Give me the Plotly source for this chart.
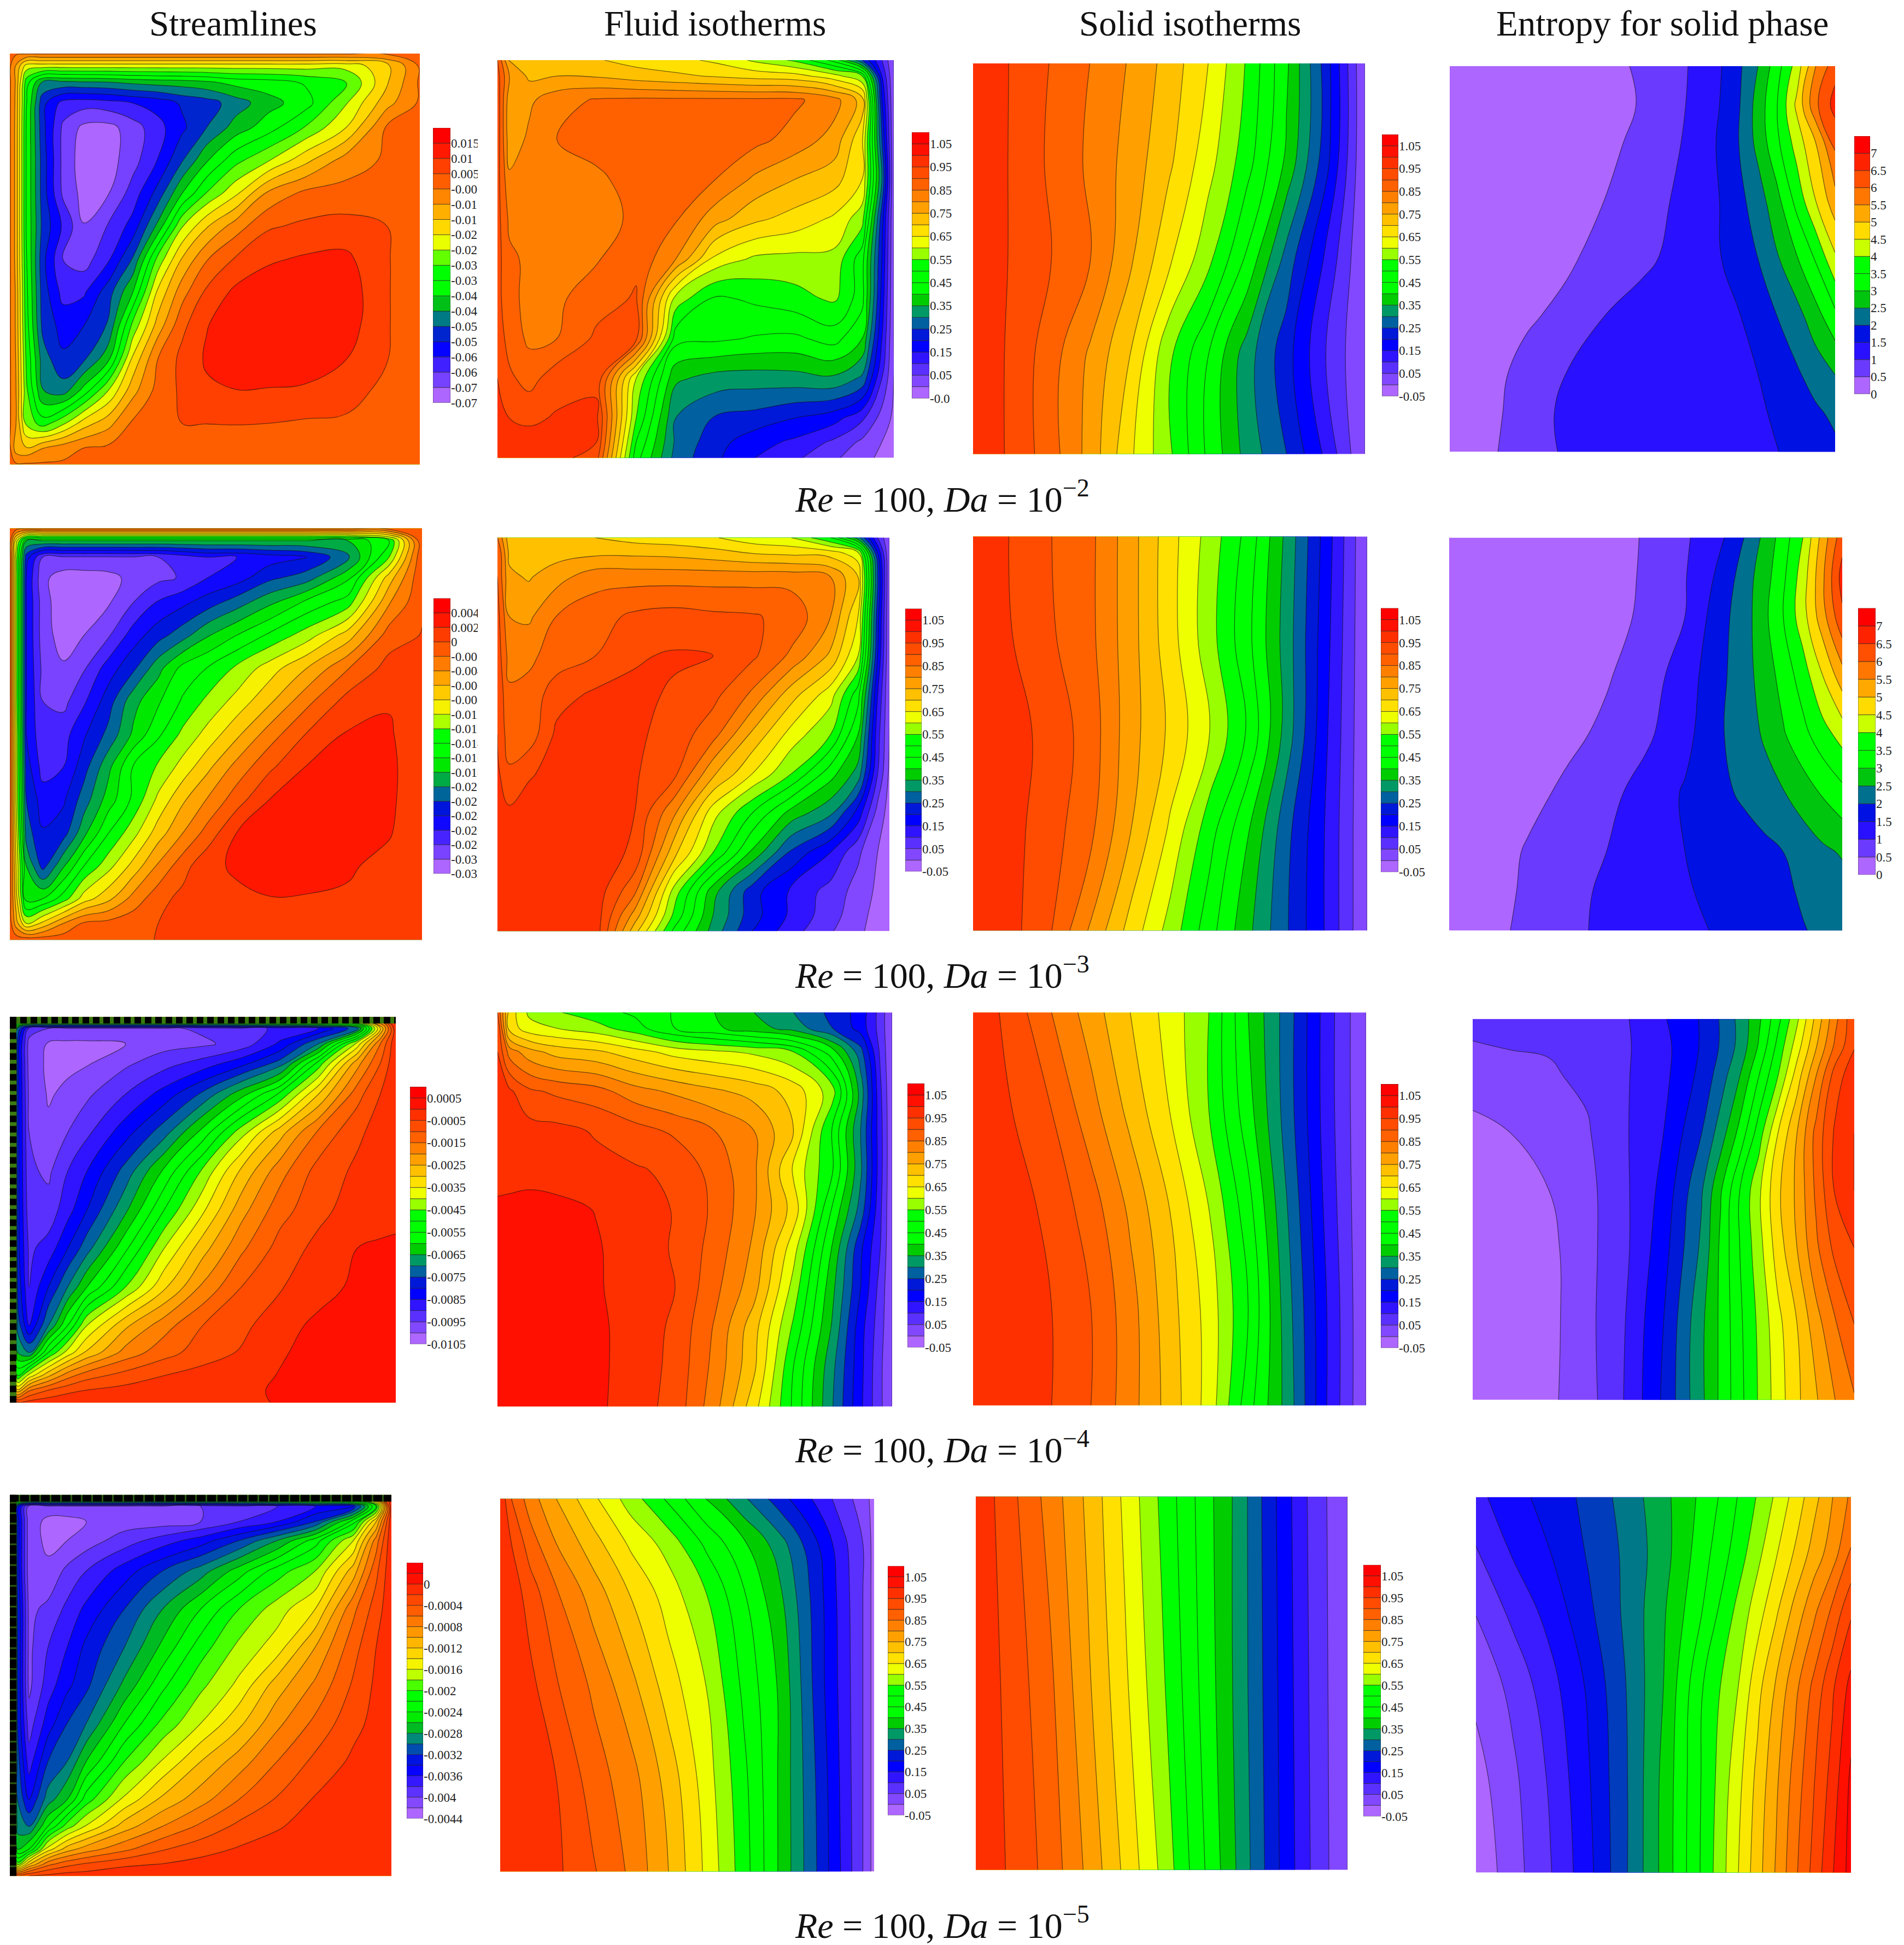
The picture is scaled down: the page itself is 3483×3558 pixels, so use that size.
import numpy as np
import plotly.graph_objects as go
from plotly.colors import sample_colorscale

W, H = 3483, 3558
Y_STRETCH = 1.0032

# tecplot style rainbow, bottom band to top band
band_colors = ["#AD66FF", "#8248FF", "#5A30FF", "#3014FF", "#0000FF", "#0018D8", "#0060A0", "#009966",
               "#00CC00", "#00FF00", "#00FF00", "#00FF00", "#99FF00", "#EEFF00", "#FFE000", "#FFC000",
               "#FFA000", "#FF8000", "#FF6000", "#FF4C00", "#FF3000", "#FF1000", "#FF0000"]

titles = ["Streamlines", "Fluid isotherms", "Solid isotherms", "Entropy for solid phase"]
da_labels = ["10<sup>−2</sup>", "10<sup>−3</sup>", "10<sup>−4</sup>", "10<sup>−5</sup>"]

# streamlines grids, y measured from the top wall
psi_x_fine = [0, .015, .04, .08, .13, .18, .24, .3, .36, .42, .48, .55, .63, .72, .82, .92, 1]
psi_yt_fine = [0, .03, .07, .12, .18, .26, .34, .42, .5, .58, .66, .74, .82, .9, .96, 1]
psi_x = [0, .02, .05, .1, .15, .2, .3, .4, .5, .6, .7, .8, .9, .96, 1]
psi_yt = [0, .03, .07, .12, .2, .3, .4, .5, .6, .7, .8, .87, .93, .97, 1]

# psi in 1e-3
psi_da2 = [
    [0, 0, 0, 0, 0, 0, 0, 0, 0, 0, 0, 0, 0, 0, 0, 0, 0],
    [0, -6.5, -19, -19.5, -19.5, -19.5, -19.5, -19.5, -19.5, -19.5, -19.5, -19.5, -19.5, -19.5, -20, -13, 0],
    [0, -7, -30, -44, -44.5, -44, -43.5, -42, -41, -40.5, -39, -36, -35, -32, -28, -12, 0],
    [0, -7.5, -32, -52, -61, -62, -61, -59, -57, -53, -51, -46, -40, -35, -22.5, -8, 0],
    [0, -8, -33, -52, -65.5, -71, -71.5, -67, -61, -55, -48.5, -41, -35, -27, -16.7, 0, 0],
    [0, -8, -33, -51, -66, -72.5, -72, -66.5, -59, -49, -38.5, -29, -22.5, -13, -3.5, 0, 0],
    [0, -8, -33, -51, -65.5, -71.5, -70, -62, -52, -38, -27, -18, -5, .5, 1, .5, 0],
    [0, -8, -33, -50, -60, -69.5, -64, -57, -42, -22.5, -12, -3.5, 3.8, 5.5, 6.5, 4.5, 0],
    [0, -8, -32, -52, -64.5, -67, -60, -48, -26, -11, -1.2, 5, 9, 10.5, 11, 5, 0],
    [0, -7, -31, -51, -61, -60, -51, -38, -16, -3, 5.5, 11, 13, 13.5, 13, 5, 0],
    [0, -7, -30, -50, -56, -54, -48, -26, -9.5, 3, 9.5, 13, 14, 14, 12.5, 5, 0],
    [0, -6.5, -28, -46, -53, -50, -40, -16, -1, 6, 10.5, 12.5, 13, 13, 10, 4.8, 0],
    [0, -6, -26, -43, -46, -36, -22, -8, 1, 5.5, 9, 9.7, 9.5, 9, 7.5, 2.5, 0],
    [0, -6, -23, -30, -23, -14, -8, .2, 1, 4.5, 4.6, 4.8, 4.5, 3.8, 3.3, 1.8, 0],
    [0, -9, -11, -6.3, -3, -.8, .3, .3, .3, .3, .3, .3, .3, .3, .3, .3, 0],
    [0, 0, 0, 0, 0, 0, 0, 0, 0, 0, 0, 0, 0, 0, 0, 0, 0],
]
psi_da3 = [
    [-1, -1, -1, -1, -1, -1, -1, -1, -1, -1, -1, -1, -1, -1, -1, -1, -.3],
    [-1, -9, -18, -18, -18, -18, -18, -18, -18, -18, -18, -18, -18, -18, -18, -14, -.3],
    [-1, -11, -23, -28, -28.2, -28.2, -28.2, -28.1, -28, -27, -26, -26, -25, -24, -20.5, -12, -.3],
    [-1, -11, -24, -29.5, -31, -31, -30.7, -29.3, -28.5, -27.8, -26, -25, -22.5, -21, -16.5, -7, -.3],
    [-1, -11, -24, -29, -31.5, -31.5, -30.2, -28, -25.8, -24.5, -23, -21, -18.5, -15.5, -13, -4.2, -.3],
    [-1, -11, -24, -29, -31, -30, -28.2, -25, -22.8, -20.8, -18.2, -16, -13.6, -11, -7, -1, .1],
    [-1, -11, -24, -28.5, -29.7, -28.2, -25, -22.4, -18.7, -15.3, -13.9, -11.6, -9, -6, -2.1, .8, .2],
    [-1, -11, -24, -28, -28.6, -26.3, -22.9, -18.7, -16.3, -13.7, -11.5, -9.3, -6.4, -2.6, .8, 1.8, .3],
    [-1, -10, -24, -27.5, -26.8, -24.3, -21.4, -17.6, -14.4, -11.5, -9.3, -6.5, -3, .1, 2.2, 2.3, .3],
    [-1, -10, -23, -26.8, -26, -22.8, -18.5, -13.8, -11.7, -9.2, -6.5, -3.3, -.4, 2.1, 2.8, 2.6, .3],
    [-1, -10, -22, -25, -24.3, -21, -17, -13.5, -9.5, -6.3, -3.8, -.9, 2.05, 2.9, 3.1, 2.5, .3],
    [-1, -9, -21, -23.8, -22.9, -18.6, -14, -10.7, -7, -4, -1.2, 2, 2.8, 3, 2.9, 2.2, .3],
    [-1, -8, -18, -22.8, -18.3, -14, -10.7, -7.3, -3.7, -.8, 1.5, 2.3, 2.6, 2.6, 2.3, 1.3, .2],
    [-1, -7, -17, -16, -13, -9, -6.5, -3.2, -.7, .6, 1.2, 1.6, 1.95, 1.9, 1.7, .9, .2],
    [-1, -5, -10, -7.5, -4, -1.7, -1.3, -.7, 0, .3, .4, .4, .4, .4, .4, .3, .1],
    [-.8, -.8, -.8, -.8, -.8, -.8, -.8, -.5, .1, .1, .1, .1, .1, .1, .1, .1, .1],
]
# psi in 1e-4
psi_da4 = [
    [-2, -15, -15, -15, -15, -15, -15, -15, -15, -15, -15, -15, -12, -6, -1],
    [-20, -70, -92, -95, -96, -96, -96, -96, -94, -92, -89, -85, -72, -30, -1],
    [-20, -78, -97, -100.5, -101, -101, -100, -97, -96, -93, -84, -70, -38, -15, -1],
    [-20, -78, -97, -101, -101, -100.5, -96, -92, -88, -82, -73, -48, -22, -10, -1],
    [-20, -78, -96, -100.5, -99, -96, -90, -83, -74, -62, -49, -30, -12, -5, -1],
    [-20, -78, -95, -99, -95, -91, -82, -72, -58, -42, -27, -14, -6, -3, -.7],
    [-20, -78, -94, -96, -90, -85, -73, -59, -44, -29, -17, -8, -4, -2.5, -.5],
    [-20, -78, -93, -93, -87, -80, -66, -50, -36, -22, -12, -6.5, -2.5, -1.5, -.5],
    [-20, -78, -91, -88, -80, -72, -56, -40, -27, -16, -8, -3.5, 0, .5, .3],
    [-20, -76, -90, -80, -70, -60, -45, -31, -19, -10, -5.5, -1.5, .8, 1.5, 1.5],
    [-20, -72, -85, -70, -55, -40, -26, -17, -10, -6.5, -1.5, .9, 2, 2.2, 2.2],
    [-15, -65, -70, -50, -38, -29, -18, -12, -7.5, -4.5, -.4, 1.3, 2, 2.2, 2.2],
    [-10, -50, -38, -26, -17, -12, -8, -5, -3, -1.5, .2, 1, 1.5, 1.6, 1.6],
    [-5, -28, -15, -9, -6, -4.5, -3, -2, -1.2, -.5, .3, .6, .7, .7, .7],
    [-2, -4, -3, -2, -1.5, -1.5, -1, -1, -.5, -.3, .1, .2, .2, .2, .2],
]
psi_da5 = [
    [-1, -8, -8, -8, -8, -8, -8, -8, -8, -8, -8, -8, -8, -4, -.5],
    [-10, -33, -41, -41, -41, -41, -41, -41, -40, -39, -38, -36, -34, -22, -.5],
    [-10, -33, -41, -42.5, -42.5, -42, -41, -41, -40, -38, -36, -32, -23, -12, -.5],
    [-10, -33, -41, -42.5, -42, -41, -39, -37, -35, -32, -28, -23, -16, -7, -.5],
    [-10, -33, -41, -41.5, -39.5, -38, -35, -32, -29, -25, -21, -18, -11, -4.5, -.5],
    [-10, -32, -40.5, -39.5, -37.5, -35.5, -32, -28, -24, -20, -17, -14, -6.5, -3, -.5],
    [-10, -32, -40.5, -38, -36, -33.5, -30, -25.5, -21, -17.5, -15, -10, -4.8, -2, -.5],
    [-10, -32, -40.5, -37, -34.5, -32.5, -27.5, -22.5, -18.5, -15.5, -11, -7.6, -3.7, -1.6, -.5],
    [-10, -32, -39, -35, -32, -30, -24, -19.5, -16, -12.5, -8.5, -5.5, -2.6, -1.4, -.5],
    [-10, -31, -37, -32, -30, -26, -20, -15.8, -12, -9, -6, -3.5, -1.6, -1, -.5],
    [-10, -30, -34, -29, -26, -21, -15.5, -11.5, -8.8, -6, -3.8, -1.8, -1, -.8, -.5],
    [-10, -29, -30, -24, -19, -15.8, -11, -8, -5.6, -3.5, -2.2, -1.2, -.8, -.6, -.5],
    [-8, -26, -24, -15, -11, -9, -6.5, -4.2, -2.8, -1.8, -1.2, -.8, -.7, -.6, -.5],
    [-4, -19, -12, -6.5, -4.6, -3.6, -2.4, -1.9, -1.3, -1, -.8, -.7, -.6, -.5, -.5],
    [-1, -2, -2, -1.5, -1, -1, -.5, -.5, -.5, -.5, -.5, -.5, -.5, -.5, -.5],
]

# fluid temperature
fluid_x = [0, .03, .08, .15, .25, .35, .45, .55, .65, .75, .85, .92, .97, 1]
fluid_yt_a = [0, .04, .1, .2, .3, .4, .5, .6, .7, .8, .9, .96, 1]
fluid_yt_c = [0, .04, .1, .2, .3, .4, .5, .6, .7, .8, .9, 1]
fluid_yt_d = [0, .12, .25, .5, .75, 1]

fluid_da2 = [
    [.9, .74, .72, .72, .705, .68, .665, .64, .59, .54, .43, .25, .1, 0],
    [.92, .8, .74, .75, .745, .725, .71, .695, .68, .67, .62, .55, .15, 0],
    [.93, .77, .79, .83, .855, .86, .86, .86, .86, .86, .82, .73, .2, 0],
    [.93, .77, .81, .85, .87, .89, .88, .875, .865, .83, .78, .66, .25, 0],
    [.92, .81, .83, .83, .84, .87, .87, .85, .79, .75, .72, .65, .3, 0],
    [.92, .84, .84, .83, .83, .86, .855, .77, .71, .68, .64, .57, .22, 0],
    [.92, .86, .84, .83, .845, .89, .8, .635, .59, .585, .585, .47, .2, 0],
    [.92, .86, .84, .84, .88, .905, .58, .49, .51, .53, .56, .47, .18, 0],
    [.93, .88, .84, .85, .91, .91, .47, .46, .445, .44, .47, .4, .15, 0],
    [.95, .91, .88, .93, .94, .6, .36, .33, .325, .33, .34, .29, .1, 0],
    [.96, .95, .94, .955, .96, .55, .3, .245, .23, .2, .17, .11, .03, -.01],
    [.97, .97, .97, .97, .95, .5, .29, .22, .17, .14, .09, .04, 0, -.02],
    [.97, .97, .97, .97, .92, .47, .28, .21, .15, .11, .06, .015, -.01, -.02],
]
fluid_da3 = [
    [.85, .72, .71, .71, .7, .68, .67, .655, .62, .6, .5, .32, .1, 0],
    [.9, .74, .73, .73, .74, .74, .735, .72, .7, .69, .68, .62, .2, 0],
    [.9, .76, .745, .78, .83, .83, .83, .83, .83, .83, .8, .7, .25, 0],
    [.92, .8, .79, .85, .88, .91, .92, .91, .905, .885, .8, .65, .22, 0],
    [.93, .83, .84, .87, .9, .945, .955, .95, .91, .84, .74, .6, .2, 0],
    [.94, .86, .865, .93, .96, .96, .945, .915, .84, .72, .62, .47, .15, 0],
    [.95, .87, .87, .96, .96, .96, .93, .87, .74, .63, .55, .4, .12, 0],
    [.96, .91, .945, .965, .965, .955, .915, .76, .65, .55, .42, .33, .1, -.01],
    [.97, .96, .97, .98, .98, .95, .81, .62, .5, .38, .31, .18, .03, -.02],
    [.97, .97, .98, .98, .98, .94, .72, .55, .39, .24, .15, .06, 0, -.02],
    [.97, .97, .98, .98, .98, .86, .58, .37, .22, .14, .08, .03, -.01, -.02],
    [.97, .97, .98, .98, .98, .78, .54, .35, .22, .14, .07, .02, -.02, -.03],
    [.97, .97, .97, .97, .98, .72, .49, .33, .2, .12, .055, .01, -.02, -.03],
]
fluid_da4 = [
    [.9, .68, .59, .555, .52, .49, .445, .4, .35, .3, .235, .18, .08, 0],
    [.95, .68, .62, .6, .57, .52, .45, .41, .37, .33, .25, .18, .08, 0],
    [.95, .83, .77, .73, .71, .67, .63, .61, .59, .55, .42, .27, .09, 0],
    [.97, .96, .91, .89, .87, .82, .79, .76, .73, .68, .57, .33, .11, 0],
    [.98, .975, .97, .965, .945, .92, .89, .85, .8, .7, .49, .3, .12, 0],
    [.99, .985, .98, .975, .965, .955, .94, .88, .81, .64, .5, .31, .12, 0],
    [1.005, 1.01, 1.02, 1.015, .998, .973, .947, .89, .806, .68, .44, .28, .11, 0],
    [1.02, 1.02, 1.02, 1.02, 1.005, .975, .945, .88, .79, .62, .39, .21, .1, 0],
    [1.02, 1.02, 1.02, 1.02, 1.005, .98, .95, .865, .77, .58, .36, .2, .08, 0],
    [1.02, 1.02, 1.02, 1.02, 1.01, .98, .94, .845, .72, .54, .34, .17, .07, 0],
    [1.02, 1.02, 1.02, 1.02, 1.01, .98, .935, .835, .71, .5, .31, .165, .06, 0],
    [1.02, 1.02, 1.02, 1.02, 1.01, .975, .93, .82, .67, .49, .3, .16, .06, 0],
]
fluid_da5 = [
    [.99, .9, .825, .75, .66, .575, .49, .4, .31, .22, .135, .07, .025, -.02],
    [.99, .95, .875, .8, .72, .64, .58, .49, .41, .32, .2, .11, .05, -.02],
    [.99, .98, .925, .855, .775, .695, .625, .55, .455, .355, .22, .12, .05, -.02],
    [.99, .985, .965, .905, .84, .765, .675, .6, .49, .39, .225, .125, .05, -.02],
    [.99, .985, .97, .95, .875, .82, .73, .625, .515, .39, .24, .13, .05, -.02],
    [.99, .99, .98, .96, .905, .84, .75, .64, .525, .39, .245, .135, .05, -.02],
]

# solid temperature
solid_x = [0, .1, .2, .3, .4, .5, .6, .7, .8, .9, 1]
solid_yt = [0, .25, .5, .75, 1]
solid_yt_d = [0, .5, 1]

solid_da2 = [
    [.99, .946, .897, .849, .795, .73, .65, .543, .409, .228, 0],
    [.99, .945, .89, .84, .78, .71, .62, .52, .39, .22, 0],
    [.99, .945, .9, .85, .76, .66, .565, .44, .28, .14, 0],
    [.99, .94, .87, .79, .7, .56, .45, .32, .22, .1, 0],
    [.99, .94, .87, .78, .66, .56, .44, .33, .25, .14, 0],
]
solid_da3 = [
    [.99, .946, .9, .86, .77, .67, .58, .48, .33, .17, 0],
    [.99, .95, .905, .86, .77, .67, .57, .46, .32, .16, 0],
    [.99, .97, .93, .875, .77, .69, .6, .49, .32, .15, 0],
    [.99, .965, .92, .86, .75, .64, .52, .4, .26, .14, 0],
    [.99, .965, .9, .79, .68, .58, .47, .36, .25, .14, 0],
]
solid_da4 = [
    [.99, .93, .85, .775, .7, .63, .55, .4, .275, .125, 0],
    [.99, .95, .9, .82, .735, .65, .55, .42, .275, .125, 0],
    [.99, .975, .935, .875, .79, .7, .6, .47, .3, .135, 0],
    [.99, .98, .95, .9, .82, .72, .63, .5, .32, .15, 0],
    [.99, .98, .95, .9, .82, .73, .63, .47, .33, .15, 0],
]
solid_da5 = [
    [.99, .91, .83, .74, .64, .54, .44, .34, .21, .09, 0],
    [.99, .93, .86, .76, .66, .56, .45, .34, .215, .095, 0],
    [.99, .94, .88, .79, .69, .59, .47, .35, .22, .1, 0],
]

# entropy
ent_x_ab = [0, .1, .2, .3, .4, .5, .6, .7, .75, .8, .85, .9, .95, 1]
ent_yt_ab = [0, .1, .2, .35, .5, .65, .8, .9, 1]
ent_x_cd = [0, .1, .2, .3, .4, .5, .6, .65, .7, .75, .8, .85, .9, .95, 1]
ent_yt_c = [0, .07, .15, .3, .45, .6, .8, 1]
ent_yt_d = [0, .15, .3, .5, .75, 1]

ent_da2 = [
    [0, .1, .2, .3, .4, .55, .9, 1.45, 1.9, 2.5, 3.3, 4.2, 5.5, 6.3],
    [0, .1, .2, .3, .4, .52, .93, 1.5, 1.95, 2.7, 3.5, 4.6, 5.9, 6.7],
    [0, .1, .2, .3, .4, .6, 1, 1.55, 2, 2.65, 3.4, 4.2, 5, 6.1],
    [0, .1, .2, .3, .5, .75, 1.1, 1.5, 1.85, 2.25, 2.85, 3.65, 4.5, 5.3],
    [0, .12, .25, .4, .7, .9, 1.15, 1.47, 1.75, 2, 2.45, 2.95, 3.55, 4.4],
    [0, .2, .42, .65, 1, 1.2, 1.3, 1.4, 1.47, 1.7, 2, 2.3, 2.8, 3.35],
    [0, .3, .7, 1, 1.2, 1.25, 1.3, 1.35, 1.4, 1.5, 1.7, 1.93, 2.2, 2.5],
    [0, .35, .75, 1.1, 1.2, 1.25, 1.28, 1.3, 1.35, 1.42, 1.58, 1.73, 1.92, 2.1],
    [0, .4, .8, 1.05, 1.2, 1.25, 1.3, 1.35, 1.38, 1.42, 1.49, 1.62, 1.75, 1.9],
]
ent_da3 = [
    [0, .1, .2, .3, .4, .52, .92, 1.5, 2, 2.6, 3.25, 4, 5.2, 6.3],
    [0, .1, .2, .3, .4, .53, .97, 1.7, 2.25, 2.75, 3.4, 4.25, 5.4, 6.7],
    [0, .1, .2, .3, .4, .55, 1, 1.9, 2.25, 2.85, 3.5, 4.3, 5.3, 6.4],
    [0, .1, .2, .3, .45, .75, 1.25, 1.95, 2.3, 2.7, 3.2, 3.75, 4.5, 5.3],
    [0, .12, .25, .38, .6, .9, 1.35, 2, 2.25, 2.55, 2.95, 3.35, 3.8, 4.2],
    [0, .15, .35, .6, .85, 1.2, 1.55, 1.9, 2.1, 2.3, 2.47, 2.75, 3.05, 3.35],
    [0, .25, .55, .78, 1, 1.25, 1.5, 1.65, 1.72, 1.85, 2, 2.2, 2.4, 2.55],
    [0, .3, .58, .85, 1.08, 1.28, 1.47, 1.6, 1.7, 1.78, 1.9, 2.07, 2.2, 2.3],
    [0, .35, .62, .88, 1.1, 1.28, 1.42, 1.55, 1.65, 1.72, 1.85, 1.97, 2.1, 2.2],
]
ent_da4 = [
    [.69, .69, .72, .78, .87, 1.17, 1.53, 1.83, 2.19, 2.64, 3.21, 3.84, 4.59, 5.31, 5.94],
    [.58, .62, .62, .72, .86, 1.11, 1.53, 1.83, 2.19, 2.73, 3.39, 4.05, 4.77, 5.46, 5.97],
    [.42, .48, .57, .65, .87, 1.12, 1.59, 1.95, 2.4, 3, 3.6, 4.35, 5.1, 5.85, 6.2],
    [.22, .3, .47, .57, .87, 1.2, 1.8, 2.25, 2.8, 3.45, 4.2, 4.8, 5.5, 6.05, 6.3],
    [.12, .18, .3, .51, .85, 1.29, 2.07, 2.67, 3.3, 3.84, 4.44, 4.86, 5.46, 6.03, 6.3],
    [.09, .14, .22, .51, .84, 1.38, 2.16, 2.76, 3.3, 3.78, 4.35, 4.8, 5.34, 5.79, 6],
    [.08, .12, .21, .51, .9, 1.5, 2.34, 2.76, 3.24, 3.66, 4.11, 4.5, 4.98, 5.37, 5.7],
    [.06, .12, .24, .48, .92, 1.55, 2.34, 2.76, 3.21, 3.63, 4.05, 4.44, 4.77, 5.1, 5.37],
]
ent_da5 = [
    [1.11, 1.4, 1.62, 1.89, 2.22, 2.61, 3.06, 3.32, 3.62, 3.92, 4.25, 4.61, 4.98, 5.39, 5.76],
    [.87, 1.23, 1.5, 1.83, 2.16, 2.58, 3.15, 3.45, 3.75, 4.11, 4.47, 4.83, 5.22, 5.55, 6.03],
    [.62, .99, 1.32, 1.74, 2.16, 2.66, 3.27, 3.63, 3.99, 4.35, 4.74, 5.19, 5.61, 6.05, 6.54],
    [.38, .69, 1.1, 1.55, 2.1, 2.7, 3.56, 3.89, 4.2, 4.68, 5.13, 5.6, 6.06, 6.54, 6.99],
    [.18, .54, .95, 1.47, 2.07, 2.78, 3.6, 3.99, 4.41, 4.88, 5.34, 5.81, 6.27, 6.71, 7.26],
    [.06, .48, .89, 1.41, 2.07, 2.79, 3.62, 4.05, 4.5, 4.97, 5.43, 5.93, 6.39, 6.87, 7.32],
]

# tick labels of the colour bars, bottom to top
labels_psi_da2 = ["-0.075", "-0.07", "-0.065", "-0.06", "-0.055", "-0.05", "-0.045", "-0.04", "-0.035",
                  "-0.03", "-0.025", "-0.02", "-0.015", "-0.01", "-0.005", "0.005", "0.01", "0.015"]
labels_psi_da3 = ["-0.032", "-0.03", "-0.028", "-0.026", "-0.024", "-0.022", "-0.02", "-0.018", "-0.016",
                  "-0.014", "-0.012", "-0.01", "-0.008", "-0.006", "-0.004", "-0.002", "0", "0.002", "0.004"]
labels_psi_da4 = ["-0.0105", "-0.0095", "-0.0085", "-0.0075", "-0.0065", "-0.0055", "-0.0045", "-0.0035",
                  "-0.0025", "-0.0015", "-0.0005", "0.0005"]
labels_psi_da5 = ["-0.0044", "-0.004", "-0.0036", "-0.0032", "-0.0028", "-0.0024", "-0.002", "-0.0016",
                  "-0.0012", "-0.0008", "-0.0004", "0"]
labels_temp = ["-0.05", "0.05", "0.15", "0.25", "0.35", "0.45", "0.55", "0.65", "0.75", "0.85", "0.95", "1.05"]
labels_temp_top = ["-0.0"] + labels_temp[1:]
labels_ent = ["0", "0.5", "1", "1.5", "2", "2.5", "3", "3.5", "4", "4.5", "5", "5.5", "6", "6.5", "7"]

# scale of each kind of panel: lowest level, step, number of bands, levels per label
psi_scale_da2 = (-75, 5.3, 18, 1)
psi_scale_da3 = (-32, 2, 19, 1)
psi_scale_da4 = (-105, 5, 23, 2)
psi_scale_da5 = (-44, 2, 24, 2)
temp_scale = (-.05, .05, 23, 2)
ent_scale = (0, .5, 15, 1)
ent_scale_c = (0, .3, 23, 1)
ent_scale_d = (0, .3, 25, 1)

# pixel boxes: plot x0, x1, y0, y1, then colour bar x0, x1, y0, y1
panels = [
    (psi_x_fine, psi_yt_fine, psi_da2, psi_scale_da2, labels_psi_da2, (18, 768, 98, 850), (792, 824, 234, 737)),
    (fluid_x, fluid_yt_a, fluid_da2, temp_scale, labels_temp_top, (910, 1635, 110, 838), (1668, 1700, 242, 729)),
    (solid_x, solid_yt, solid_da2, temp_scale, labels_temp, (1780, 2497, 116, 831), (2528, 2558, 246, 725)),
    (ent_x_ab, ent_yt_ab, ent_da2, ent_scale, labels_ent, (2652, 3357, 121, 827), (3392, 3421, 249, 721)),
    (psi_x_fine, psi_yt_fine, psi_da3, psi_scale_da3, labels_psi_da3, (18, 772, 967, 1720), (793, 824, 1095, 1599)),
    (fluid_x, fluid_yt_a, fluid_da3, temp_scale, labels_temp, (910, 1627, 984, 1704), (1656, 1686, 1114, 1595)),
    (solid_x, solid_yt, solid_da3, temp_scale, labels_temp, (1780, 2501, 982, 1703), (2526, 2558, 1113, 1596)),
    (ent_x_ab, ent_yt_ab, ent_da3, ent_scale, labels_ent, (2651, 3370, 984, 1703), (3399, 3431, 1113, 1601)),
    (psi_x, psi_yt, psi_da4, psi_scale_da4, labels_psi_da4, (18, 724, 1861, 2567), (750, 780, 1989, 2460)),
    (fluid_x, fluid_yt_c, fluid_da4, temp_scale, labels_temp, (910, 1632, 1853, 2574), (1660, 1691, 1983, 2466)),
    (solid_x, solid_yt, solid_da4, temp_scale, labels_temp, (1780, 2499, 1853, 2572), (2526, 2558, 1984, 2467)),
    (ent_x_cd, ent_yt_c, ent_da4, ent_scale_c, None, (2694, 3392, 1865, 2562), None),
    (psi_x, psi_yt, psi_da5, psi_scale_da5, labels_psi_da5, (18, 716, 2736, 3433), (744, 774, 2860, 3328)),
    (fluid_x, fluid_yt_d, fluid_da5, temp_scale, labels_temp, (915, 1599, 2743, 3425), (1624, 1654, 2866, 3322)),
    (solid_x, solid_yt_d, solid_da5, temp_scale, labels_temp, (1785, 2465, 2739, 3422), (2494, 2526, 2864, 3324)),
    (ent_x_cd, ent_yt_d, ent_da5, ent_scale_d, None, (2700, 3386, 2740, 3427), None),
]

title_centers = [426, 1308, 2177, 3041]
eq_rows = [909, 1780, 2649, 3519]


def xp(px):
    return px / W


def yp(py):
    return 1 - py * Y_STRETCH / H


colorscale = [[i / (len(band_colors) - 1), c] for i, c in enumerate(band_colors)]
fig = go.Figure()
axis_no = 0


def new_axes(box, xrange, yaxis_opts):
    global axis_no
    axis_no += 1
    name = "" if axis_no == 1 else str(axis_no)
    fig.layout["xaxis" + name] = dict(domain=[xp(box[0]), xp(box[1])], range=xrange, anchor="y" + name,
                                      visible=False, fixedrange=True)
    fig.layout["yaxis" + name] = dict(domain=[yp(box[3]), yp(box[2])], anchor="x" + name, fixedrange=True,
                                      **yaxis_opts)
    return "x" + name, "y" + name


for xs, yts, grid, scale, labels, box, bar_box in panels:
    lo, step, bands, every = scale
    z = np.array(grid, dtype=float)[::-1]
    ys = 1 - np.array(yts, dtype=float)[::-1]

    xa, ya = new_axes(box, [0, 1], dict(range=[0, 1], visible=False))
    fig.add_trace(go.Contour(
        x=xs, y=ys, z=z, xaxis=xa, yaxis=ya,
        colorscale=colorscale, showscale=False, autocontour=False,
        contours=dict(start=lo + step, end=lo + step * (bands - 1), size=step, coloring="fill", showlines=True),
        line=dict(color="rgba(20,20,20,0.6)", width=1.3, smoothing=1.15),
        hoverinfo="skip",
    ))

    if bar_box is None:
        continue
    levels = [lo + step * i for i in range(bands + 1)]
    tickvals = levels[::every][:len(labels)]
    xa, ya = new_axes(bar_box, [0.5, 1.5], dict(
        range=[levels[0], levels[-1]], side="right", tickmode="array", tickvals=tickvals, ticktext=labels,
        ticks="", showgrid=False, zeroline=False, showline=False,
        tickfont=dict(family="Liberation Serif", size=23, color="#222222"),
    ))
    fills = sample_colorscale(colorscale, [i / (bands - 1) for i in range(bands)])
    fig.add_trace(go.Bar(
        x=[1] * bands, y=[step] * bands, base=levels[:-1], width=1, xaxis=xa, yaxis=ya,
        marker=dict(color=fills, line=dict(color="rgba(40,40,40,0.7)", width=1)),
        showlegend=False, hoverinfo="skip",
    ))

for text, cx in zip(titles, title_centers):
    fig.add_annotation(text=text, x=xp(cx), y=yp(43), xref="paper", yref="paper", showarrow=False,
                       xanchor="center", yanchor="middle",
                       font=dict(family="Liberation Serif", size=65, color="#111111"))

for da, cy in zip(da_labels, eq_rows):
    fig.add_annotation(text="<i>Re</i> = 100, <i>Da</i> = " + da, x=xp(1723), y=yp(cy), xref="paper", yref="paper",
                       showarrow=False, xanchor="center", yanchor="middle",
                       font=dict(family="Liberation Serif", size=66, color="#111111"))

shapes = []
# the long labels of the first two streamline bars are cut off in the source
for y0, y1 in [(225, 760), (1085, 1620)]:
    shapes.append(dict(type="rect", xref="paper", yref="paper", x0=xp(874), x1=xp(906), y0=yp(y1), y1=yp(y0),
                       fillcolor="white", line=dict(width=0)))
# jagged black wall on the low Da streamline plots
walls = [(18, 724, 1861, 2567, "12px,7px", "#3a7a10"), (18, 716, 2736, 3433, "16px,3px", "#2a5a10")]
for x0, x1, y0, y1, dash, base in walls:
    for colour, d in [(base, "solid"), ("black", dash)]:
        shapes.append(dict(type="line", xref="paper", yref="paper", x0=xp(x0), x1=xp(x1), y0=yp(y0 + 6), y1=yp(y0 + 6),
                           line=dict(color=colour, width=12, dash=d)))
        shapes.append(dict(type="line", xref="paper", yref="paper", x0=xp(x0 + 6), x1=xp(x0 + 6), y0=yp(y1), y1=yp(y0),
                           line=dict(color=colour, width=12, dash=d)))

fig.update_layout(width=W, height=H, margin=dict(l=0, r=0, t=0, b=0), paper_bgcolor="white",
                  plot_bgcolor="white", showlegend=False, barmode="overlay", shapes=shapes)

fig.write_html("out.html", config=dict(displayModeBar=False), post_script="document.body.style.margin='0';")
